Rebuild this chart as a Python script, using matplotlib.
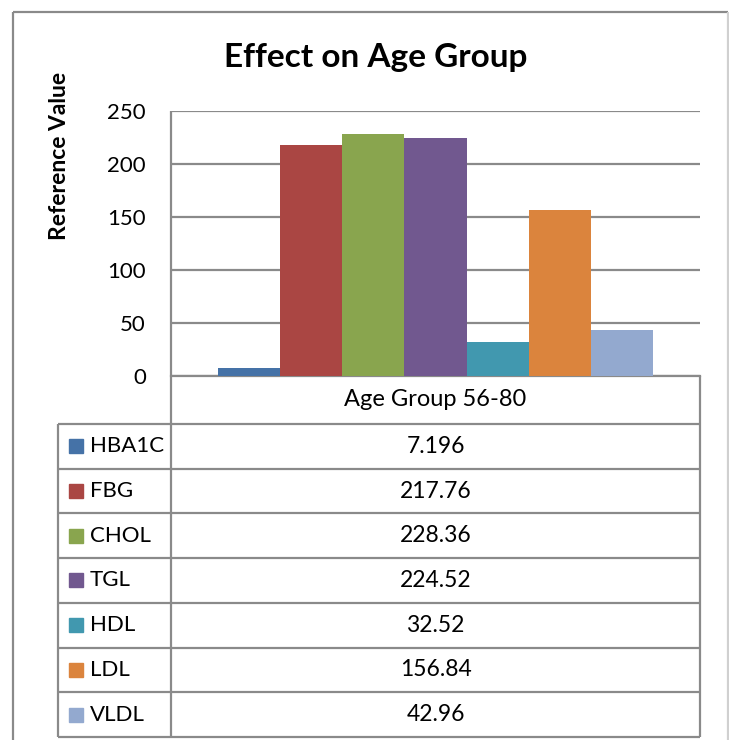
import matplotlib
matplotlib.use("Agg")
import matplotlib.pyplot as plt
from matplotlib.lines import Line2D
from matplotlib.patches import Rectangle

# lab values for the 56-80 group
params = ["HBA1C", "FBG", "CHOL", "TGL", "HDL", "LDL", "VLDL"]
values = [7.196, 217.76, 228.36, 224.52, 32.52, 156.84, 42.96]
value_text = ["7.196", "217.76", "228.36", "224.52", "32.52", "156.84", "42.96"]
colors = ["#4572A7", "#AA4643", "#89A54E", "#71588F", "#4198AF", "#DB843D", "#93A9CF"]
category = "Age Group 56-80"
yticks = [0, 50, 100, 150, 200, 250]

plt.rcParams['font.family'] = ['Lato', 'DejaVu Sans']

W, H = 729, 740
fig = plt.figure(figsize=(W / 100, H / 100), dpi=100)

def fx(x):
    return x / W

def fy(y):
    return 1 - y / H

def hline(y, x0, x1, c="#8a8a8a", lw=1.6):
    fig.add_artist(Line2D([fx(x0), fx(x1)], [fy(y), fy(y)], color=c, lw=lw,
                          transform=fig.transFigure, solid_capstyle="butt"))

def vline(x, y0, y1, c="#8a8a8a", lw=1.6):
    fig.add_artist(Line2D([fx(x), fx(x)], [fy(y0), fy(y1)], color=c, lw=lw,
                          transform=fig.transFigure, solid_capstyle="butt"))

# plot area in pixels
L, R, T, B = 171, 700, 111, 376
ax = fig.add_axes([fx(L), fy(B), fx(R) - fx(L), (B - T) / H])

w = 1 / 8.5
for i in range(len(values)):
    ax.bar((i - 3) * w, values[i], width=w, color=colors[i], zorder=3)

ax.set_xlim(-0.5, 0.5)
ax.set_ylim(0, 250)
ax.set_yticks(yticks)
ax.set_xticks([])
ax.yaxis.grid(True, color="#8a8a8a", lw=1.6)
ax.set_axisbelow(True)
for s in ["top", "right", "left"]:
    ax.spines[s].set_visible(False)
ax.spines["bottom"].set_color("#8a8a8a")
ax.spines["bottom"].set_linewidth(1.6)
ax.tick_params(axis="y", length=0, pad=18, labelsize=16)

fig.text(fx(376), fy(57), "Effect on Age Group", fontsize=24, fontweight="bold",
         ha="center", va="center")
fig.text(fx(60), fy(156), "Reference Value", fontsize=16.5, fontweight="bold",
         rotation=90, ha="center", va="center")

# data table under the axis
rows = [424 + i * 44.7 for i in range(len(params) + 1)]
vline(L, T, rows[-1])
vline(R, B, rows[-1])
vline(58, rows[0], rows[-1])
for y in rows:
    hline(y, 58, R)
fig.text(fx((L + R) / 2), fy((B + rows[0]) / 2), category, fontsize=17,
         ha="center", va="center")
for i, p in enumerate(params):
    yc = (rows[i] + rows[i + 1]) / 2
    fig.add_artist(Rectangle((fx(69), fy(yc + 7)), fx(14), 14 / H,
                             color=colors[i], transform=fig.transFigure))
    fig.text(fx(90), fy(yc), p, fontsize=16, ha="left", va="center")
    fig.text(fx((L + R) / 2), fy(yc), value_text[i], fontsize=16.5,
             ha="center", va="center")

# chart border
vline(13, 12, 740, c="#8a8a8a", lw=1.6)
hline(12, 13, 728, c="#8a8a8a", lw=1.6)
vline(727.5, 12, 740, c="#d0d0d0", lw=1.6)

fig.savefig("out.png", dpi=100)
